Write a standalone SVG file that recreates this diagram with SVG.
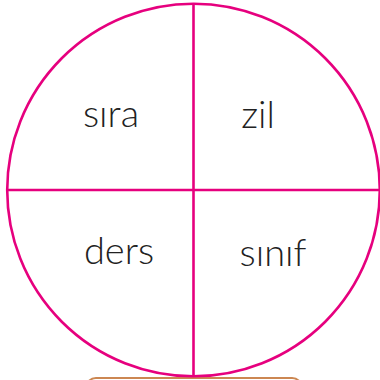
<svg xmlns="http://www.w3.org/2000/svg" width="380" height="380" viewBox="0 0 380 380">
<style>
.ln{stroke:#e6007e;stroke-width:2.6;fill:none}
.t{font-family:Lato,"Open Sans",sans-serif;font-weight:300;font-size:38px;fill:#222;text-anchor:middle}
</style>
<rect width="380" height="380" fill="#fff"/>
<rect x="86" y="378" width="216" height="40" rx="10" fill="none" stroke="#cc8752" stroke-width="2"/>
<g id="connectors">
<circle class="ln" cx="193.5" cy="190" r="186.3"/>
<line class="ln" x1="193.5" y1="3.7" x2="193.5" y2="376.3"/>
<line class="ln" x1="7.2" y1="190" x2="379.8" y2="190"/>
</g>
<g id="sira"><text class="t" x="111" y="127">sıra</text></g>
<g id="zil"><text class="t" x="258" y="128">zil</text></g>
<g id="ders"><text class="t" x="119" y="264">ders</text></g>
<g id="sinif"><text class="t" x="273" y="266">sınıf</text></g>
</svg>
